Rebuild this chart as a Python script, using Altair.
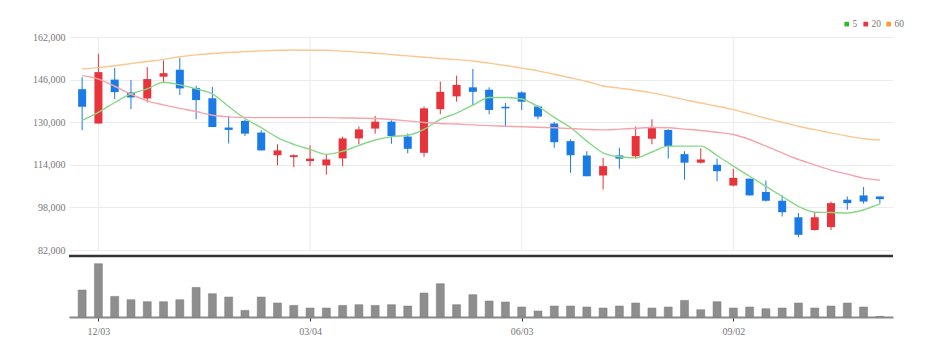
import altair as alt
import pandas as pd

# ---- data (weekly candles) ----
idx = list(range(50))
opens = [142400, 129500, 146000, 141200, 138900, 147100, 149700, 142800, 139000, 128000,
         130500, 126100, 117600, 116900, 115400, 113800, 116400, 123900, 127600, 130200,
         124600, 118500, 134900, 139700, 143100, 142200, 135800, 141200, 135900, 129500,
         122900, 117500, 110000, 117500, 117200, 123800, 127100, 118000, 114800, 114000,
         106200, 108800, 103800, 100500, 94300, 89500, 90600, 100900, 102500, 102100]
closes = [135800, 148800, 141300, 139300, 146200, 148400, 142700, 138300, 128200, 127100,
          125700, 119400, 119400, 117600, 116300, 116000, 123900, 127300, 130200, 124800,
          120000, 135200, 141400, 144000, 141400, 134600, 135200, 137700, 132100, 122500,
          117600, 109700, 113500, 116300, 124800, 127800, 121000, 114800, 116000, 111600,
          109100, 102500, 100500, 96200, 87700, 94300, 99600, 99600, 100200, 101100]
highs = [146900, 155700, 150400, 145900, 150700, 153200, 154100, 143700, 143300, 132400,
         130900, 127000, 121700, 117900, 121300, 117900, 124600, 128400, 132400, 130700,
         125700, 135900, 145200, 147500, 150000, 143100, 137200, 141600, 136400, 130100,
         123600, 119100, 116600, 120400, 128400, 131100, 127300, 119100, 120200, 116300,
         112500, 108800, 108100, 102500, 95900, 96200, 100200, 102100, 105700, 102100]
lows = [127000, 129500, 138700, 134900, 137400, 145000, 140200, 131100, 128200, 122000,
        124800, 119400, 113800, 113100, 113500, 110300, 113500, 121700, 125700, 121900,
        118300, 117000, 133000, 137700, 136400, 133000, 128400, 134600, 131100, 120400,
        111000, 109700, 104700, 112500, 116300, 121700, 116300, 108400, 114500, 107800,
        105900, 102500, 100200, 94600, 86800, 89300, 89500, 97100, 99400, 99400]
volumes = [270, 533, 206, 173, 153, 153, 173, 296, 233, 200,
           66, 200, 140, 116, 90, 90, 116, 123, 116, 123,
           110, 240, 333, 123, 223, 160, 150, 100, 60, 110,
           110, 100, 90, 110, 140, 90, 100, 166, 73, 153,
           90, 100, 83, 90, 140, 90, 110, 140, 100, 6]
ma5 = [130700, 133700, 137400, 140600, 142500, 145000, 144000, 142500, 140600, 135900,
       131400, 128000, 124200, 121700, 119800, 117900, 119100, 121300, 123300, 124600,
       125100, 127300, 131100, 133400, 136400, 139300, 139300, 138700, 135900, 131800,
       128000, 122900, 118500, 117000, 116600, 118800, 121000, 121000, 121000, 117500,
       113500, 109700, 105900, 102100, 98400, 96200, 96100, 95900, 97100, 99300]
ma20 = [147500, 146200, 143500, 140500, 138000, 136500, 135200, 134000, 132600, 132000,
        131800, 131700, 131700, 131700, 131700, 131700, 131600, 131500, 131400, 131000,
        130500, 129900, 129500, 129300, 129000, 128700, 128500, 128300, 128100, 127900,
        127600, 127300, 127100, 127400, 127700, 128000, 127900, 127400, 126900, 126200,
        125400, 123500, 121000, 118500, 116000, 114000, 112000, 110500, 109000, 108200]
ma60 = [150000, 150500, 151200, 152000, 152800, 153600, 154600, 155300, 155800, 156200,
        156500, 156800, 157000, 157100, 157000, 157000, 156700, 156300, 155900, 155400,
        154900, 154400, 153900, 153500, 153000, 152200, 151300, 150300, 149300, 148000,
        146700, 145300, 143600, 142800, 142000, 141000, 139800, 138500, 137200, 136000,
        134700, 133100, 131500, 130000, 128500, 127200, 126000, 124800, 123800, 123300]
ma_names = ["5", "20", "60"]
tick_idx = [1, 14, 27, 40]
tick_labels = ["12/03", "03/04", "06/03", "09/02"]
y_ticks = [82000, 98000, 114000, 130000, 146000, 162000]

df = pd.DataFrame({"i": idx, "open": opens, "close": closes, "high": highs,
                   "low": lows, "vol": volumes})
ma_df = pd.concat([
    pd.DataFrame({"i": idx, "ma": name, "v": vals})
    for name, vals in zip(ma_names, [ma5, ma20, ma60])
])
legend_df = pd.DataFrame({"avg": ma_names})
tick_df = pd.DataFrame({"i": tick_idx, "label": tick_labels})

FONT = "Liberation Sans Narrow"
RED = "#e8333b"
BLUE = "#1b7be6"

x_scale = alt.Scale(domain=[-0.5, 49.5], nice=False, zero=False)
y_scale = alt.Scale(domain=[y_ticks[0], y_ticks[-1]], nice=False, zero=False)

label_expr = ""
for t, l in zip(tick_idx, tick_labels):
    label_expr += f"datum.value == {t} ? '{l}' : "
label_expr += "''"

up = "datum.close >= datum.open"
candle_color = alt.condition(up, alt.value(RED), alt.value(BLUE))

x_none = alt.X("i:Q", scale=x_scale, axis=None)

vgrid = alt.Chart(tick_df).mark_rule(color="#ececec", strokeWidth=1).encode(
    x=x_none,
    y=alt.datum(y_ticks[-1], scale=y_scale),
    y2=alt.datum(y_ticks[0]),
)

wicks = alt.Chart(df).mark_rule(strokeWidth=1).encode(
    x=x_none,
    y=alt.Y("low:Q", scale=y_scale,
            axis=alt.Axis(values=y_ticks, format=",d", grid=True, gridColor="#ececec",
                          domain=False, ticks=False, labelColor="#777",
                          labelFontSize=10, labelFont=FONT, labelPadding=4, title=None)),
    y2="high:Q",
    color=candle_color,
)
bodies = alt.Chart(df).mark_bar(size=8).encode(
    x=x_none, y="open:Q", y2="close:Q", color=candle_color,
)
# MA lines: light stroke colours, no legend of their own (domain from data, sorted)
lines = alt.Chart(ma_df).mark_line(strokeWidth=1.4, interpolate="monotone").encode(
    x=x_none, y="v:Q",
    stroke=alt.Stroke("ma:N", sort=ma_names,
                      scale=alt.Scale(range=["#86d886", "#f6a4ab", "#fcc690"]),
                      legend=None),
    detail="ma:N",
)
# legend only (invisible marks), saturated colours
legend_layer = alt.Chart(legend_df).mark_square(size=0, filled=True).encode(
    fill=alt.Fill("avg:N",
                  scale=alt.Scale(domain=ma_names, range=["#2fb82f", "#ee3344", "#ff9933"]),
                  legend=alt.Legend(title=None, orient="none", legendX=773, legendY=-18,
                                    direction="horizontal", symbolType="square",
                                    symbolSize=22, symbolOpacity=1, symbolStrokeWidth=0,
                                    labelFontSize=9.5, labelFont=FONT, labelColor="#777",
                                    labelOffset=1, columnPadding=3)),
)

price = alt.layer(vgrid, wicks, bodies, lines, legend_layer).properties(width=824, height=213)

sep = alt.Chart(pd.DataFrame({"a": [0]})).mark_rule(color="#333333", strokeWidth=2.5).encode(
    y=alt.value(0)
)
vol_bars = alt.Chart(df).mark_bar(size=8, color="#8e8e8e", stroke="#7a7a7a", strokeWidth=0.5).encode(
    x=alt.X("i:Q", scale=x_scale,
            axis=alt.Axis(values=tick_idx, labelExpr=label_expr, grid=False,
                          domainColor="#8a8a8a", domainWidth=2, tickColor="#333333",
                          tickSize=4, labelColor="#777", labelFontSize=10, labelFont=FONT,
                          labelPadding=5, title=None)),
    y=alt.Y("vol:Q", scale=alt.Scale(domain=[0, 610], nice=False), axis=None),
)
volume = alt.layer(vol_bars, sep).properties(width=824, height=61)

chart = alt.vconcat(price, volume, spacing=6, bounds="flush").properties(
    padding={"left": 24, "top": 11, "right": 5, "bottom": 5}
).configure_view(stroke=None)

chart.save("out.html", embed_options={"renderer": "svg", "actions": False})
